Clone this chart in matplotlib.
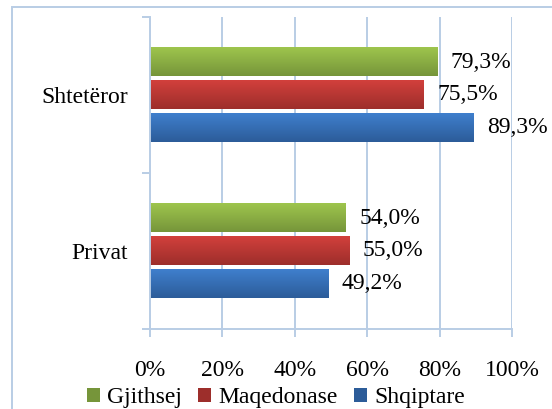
import matplotlib
matplotlib.use("Agg")
import matplotlib.pyplot as plt
import numpy as np
from matplotlib.colors import LinearSegmentedColormap
from matplotlib.patches import Rectangle, Patch

categories = ["Privat", "Shtetëror"]
series_names = ["Gjithsej", "Maqedonase", "Shqiptare"]
gjithsej = [54.0, 79.3]
maqedonase = [55.0, 75.5]
shqiptare = [49.2, 89.3]
xtick_labels = ["0%", "20%", "40%", "60%", "80%", "100%"]

values = [gjithsej, maqedonase, shqiptare]
grads = [("#9ec54d", "#76953a"), ("#d2403c", "#9d2e2b"), ("#3f7fcd", "#2c5c99")]
offsets = [0.21, 0.0, -0.21]
bar_h = 0.18
grid_c = "#b9cde5"
FS = 17

plt.rcParams["font.family"] = ["Liberation Serif", "DejaVu Serif"]

fig = plt.figure(figsize=(5.52, 4.09), dpi=100)
W, H = 552, 409
ax = fig.add_axes([150 / W, 1 - 329 / H, 362 / W, 312 / H])

y = np.arange(len(categories))
handles = []
for vals, (ctop, cbot), off, name in zip(values, grads, offsets, series_names):
    bars = ax.barh(y + off, vals, height=bar_h, color="none", zorder=3,
                   linewidth=0)
    cmap = LinearSegmentedColormap.from_list(name, [cbot, ctop])
    grad = np.linspace(0, 1, 64).reshape(-1, 1)
    for b, v in zip(bars, vals):
        x0, y0 = b.get_x(), b.get_y()
        w, h = b.get_width(), b.get_height()
        ax.imshow(grad, cmap=cmap, aspect="auto", origin="lower",
                  extent=(x0, x0 + w, y0, y0 + h), zorder=4)
        ax.annotate(f"{v:.1f}%".replace(".", ","), xy=(v, y0 + h / 2),
                    xytext=(10, 0), textcoords="offset points",
                    va="center", ha="left", fontsize=FS, color="black", zorder=5)
    handles.append(Patch(facecolor=cbot, edgecolor="none", label=name))

ax.set_xlim(0, 100)
ax.set_ylim(-0.5, 1.5)
ax.set_xticks([0, 20, 40, 60, 80, 100])
ax.set_xticklabels(xtick_labels, fontsize=FS)
ax.set_yticks([-0.5, 0.5, 1.5])
ax.set_yticklabels([])
ax.set_yticks(y, minor=True)
ax.set_yticklabels(categories, minor=True, fontsize=FS)
ax.tick_params(axis="y", which="minor", length=0, pad=16)
ax.tick_params(axis="y", which="major", length=6, width=1.4, color=grid_c)
ax.tick_params(axis="x", length=6, width=1.4, color=grid_c, pad=16)
ax.grid(axis="x", color=grid_c, linewidth=1.4, zorder=0)
ax.set_axisbelow(True)
for s in ["top", "right"]:
    ax.spines[s].set_visible(False)
for s in ["left", "bottom"]:
    ax.spines[s].set_color(grid_c)
    ax.spines[s].set_linewidth(1.4)
ax.spines["left"].set_zorder(6)

leg = fig.legend(handles=handles, loc="center", bbox_to_anchor=(0.5, 1 - 398 / H),
                 ncol=3, frameon=False, fontsize=FS, handlelength=0.55,
                 handleheight=0.55, handletextpad=0.3, columnspacing=0.7,
                 borderpad=0, borderaxespad=0)

fig.patches.append(Rectangle((12 / W, -0.1), 1.2, 1 - 7 / H + 0.1,
                             transform=fig.transFigure, fill=False,
                             edgecolor=grid_c, linewidth=1.4, figure=fig))

fig.savefig("out.png", dpi=100)
